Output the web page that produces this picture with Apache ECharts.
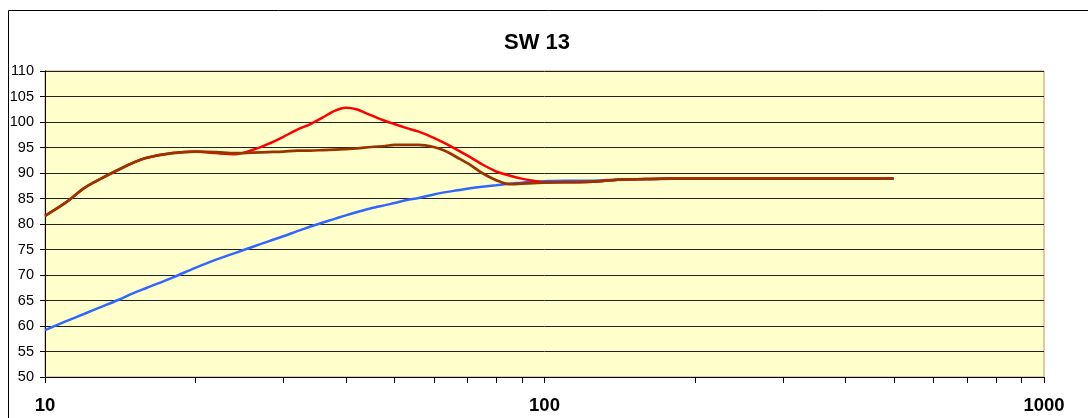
<!DOCTYPE html>
<html>
<head>
<meta charset="utf-8">
<script src="https://cdn.jsdelivr.net/npm/echarts@6/dist/echarts.min.js"></script>
<style>
html,body{margin:0;padding:0;background:#fff;}
#c{width:1088px;height:418px;}
</style>
</head>
<body>
<div id="c"></div>
<script>
// Data
const title = "SW 13";
const freqs = [10, 11, 12, 13, 14, 15, 16, 18, 20, 22, 24, 26, 28, 30, 32, 34, 36, 38, 40, 42, 45, 48, 50, 53, 56, 60, 63, 67, 71, 75, 80, 85, 90, 95, 100, 110, 125, 140, 160, 180, 200, 250, 315, 400, 500];
const blueValues = [59.2, 60.9, 62.4, 63.8, 65.1, 66.4, 67.5, 69.5, 71.4, 73.0, 74.3, 75.5, 76.6, 77.6, 78.6, 79.5, 80.3, 81.0, 81.7, 82.3, 83.1, 83.7, 84.1, 84.7, 85.1, 85.8, 86.2, 86.6, 87.0, 87.3, 87.6, 87.9, 88.1, 88.3, 88.4, 88.5, 88.5, 88.7, 88.8, 88.9, 88.9, 88.9, 88.9, 88.9, 88.9];
const redValues = [81.6, 84.2, 87.1, 89.0, 90.6, 92.0, 93.0, 93.9, 94.2, 93.9, 93.7, 94.5, 95.7, 97.1, 98.5, 99.6, 100.9, 102.2, 102.8, 102.5, 101.3, 100.2, 99.6, 98.8, 98.1, 96.9, 95.9, 94.5, 93.1, 91.7, 90.3, 89.5, 88.9, 88.5, 88.2, 88.2, 88.3, 88.7, 88.8, 88.9, 88.9, 88.9, 88.9, 88.9, 88.9];
const brownValues = [81.6, 84.2, 87.1, 89.0, 90.6, 92.0, 93.0, 93.9, 94.2, 94.1, 93.9, 94.0, 94.1, 94.2, 94.4, 94.4, 94.5, 94.6, 94.7, 94.8, 95.1, 95.3, 95.5, 95.5, 95.5, 95.1, 94.4, 93.0, 91.6, 90.0, 88.6, 87.8, 87.9, 88.0, 88.1, 88.2, 88.3, 88.7, 88.8, 88.9, 88.9, 88.9, 88.9, 88.9, 88.9];
const xMajorTicks = [10, 100, 1000];
const xMinorTicks = [20, 30, 40, 50, 60, 70, 80, 90, 200, 300, 400, 500, 600, 700, 800, 900];
const yMin = 50, yMax = 110, yStep = 5;

const pairs = vals => freqs.map((f, i) => [f, vals[i]]);

const chart = echarts.init(document.getElementById('c'), null, {renderer: 'canvas'});
const option = {
  animation: false,
  backgroundColor: '#fff',
  title: {
    text: title,
    left: 499, top: 27,
    textStyle: {fontFamily: 'Arial, Liberation Sans', fontWeight: 'bold', fontSize: 22, color: '#000'}
  },
  grid: {
    left: 45, right: 44, top: 71, bottom: 41,
    show: true, backgroundColor: '#FFFFCC', borderColor: '#C89060', borderWidth: 1
  },
  xAxis: {
    type: 'log', logBase: 10, min: 10, max: 1000,
    axisLine: {show: true, lineStyle: {color: '#000', width: 1}},
    axisTick: {show: true, length: 6, inside: false, lineStyle: {color: '#000'}},
    minorTick: {show: false},
    splitLine: {show: false},
    axisLabel: {
      margin: 19, color: '#000', fontFamily: 'Arial, Liberation Sans', fontWeight: 'bold', fontSize: 18.5,
      formatter: v => xMajorTicks.indexOf(Math.round(v)) >= 0 ? String(Math.round(v)) : ''
    }
  },
  yAxis: {
    type: 'value', min: yMin, max: yMax, interval: yStep,
    axisLine: {show: true, lineStyle: {color: '#000', width: 1}},
    axisTick: {show: true, length: 5, inside: false, lineStyle: {color: '#000'}},
    splitLine: {show: true, lineStyle: {color: '#222', width: 1}},
    axisLabel: {margin: 11, color: '#000', fontFamily: 'Arial, Liberation Sans', fontSize: 14.5}
  },
  series: [
    {name: 'blue', type: 'line', data: pairs(blueValues), smooth: 0.3, symbol: 'none',
     lineStyle: {color: '#3366FF', width: 2.5}, z: 2},
    {name: 'red', type: 'line', data: pairs(redValues), smooth: 0.3, symbol: 'none',
     lineStyle: {color: '#FF0000', width: 2.5}, z: 3},
    {name: 'brown', type: 'line', data: pairs(brownValues), smooth: 0.3, symbol: 'none',
     lineStyle: {color: '#993300', width: 2.7}, z: 4}
  ]
};
chart.setOption(option);

// minor ticks at 20..90, 200..900 positioned via the axis scale
const y0 = chart.convertToPixel({yAxisIndex: 0}, yMin);
const graphics = xMinorTicks.map(f => {
  const x = Math.round(chart.convertToPixel({xAxisIndex: 0}, f)) + 0.5;
  return {type: 'line', shape: {x1: x, y1: y0, x2: x, y2: y0 + 6}, style: {stroke: '#000', lineWidth: 1}, silent: true};
});
graphics.push({type: 'rect', shape: {x: 8.5, y: 10.5, width: 1200, height: 600},
  style: {fill: 'none', stroke: '#000', lineWidth: 1}, silent: true, z: -1});
chart.setOption({graphic: graphics});
</script>
</body>
</html>
